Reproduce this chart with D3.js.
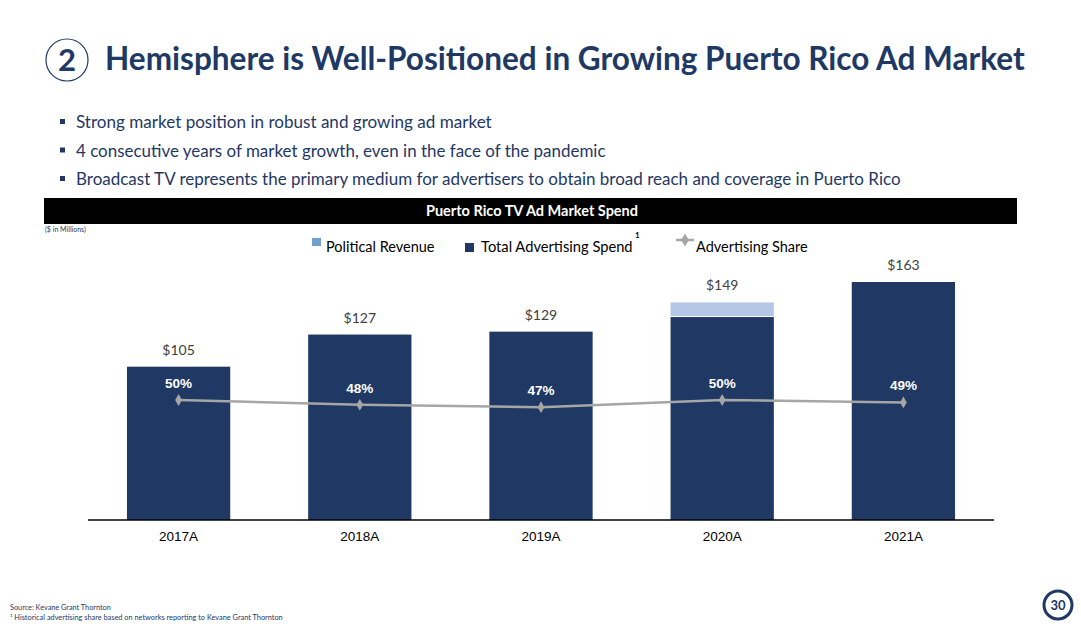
<!DOCTYPE html>
<html>
<head>
<meta charset="utf-8">
<script src="https://cdn.jsdelivr.net/npm/d3@7"></script>
<style>
  body { margin: 0; background: #fff; }
  svg { display: block; }
</style>
</head>
<body>
<svg id="chart" width="1081" height="636"></svg>
<script>
const W = 1081, H = 636;

// data
const years = ['2017A', '2018A', '2019A', '2020A', '2021A'];
const adSpend = [105, 127, 129, 139, 163];
const political = [0, 0, 0, 10, 0];
const totalLabels = ['$105', '$127', '$129', '$149', '$163'];
const adShare = [50, 48, 47, 50, 49];
const bullets = [
  'Strong market position in robust and growing ad market',
  '4 consecutive years of market growth, even in the face of the pandemic',
  'Broadcast TV represents the primary medium for advertisers to obtain broad reach and coverage in Puerto Rico'
];

const navy = '#203864';
const textNavy = '#1f3864';
const polColor = '#b4c7e7';
const polLegend = '#729fcf';
const lineGray = '#a6a6a6';
const slideFont = 'Lato, "Open Sans", sans-serif';
const chartFont = '"Liberation Sans", Arial, sans-serif';

const svg = d3.select('#chart');

// shrink/grow a text node so it spans a given width
function fitText(sel, width) {
  const node = sel.node();
  const size = parseFloat(sel.attr('font-size'));
  const len = node.getComputedTextLength();
  sel.attr('font-size', size * width / len);
}

// HEADER
svg.append('circle')
  .attr('cx', 67).attr('cy', 60).attr('r', 21)
  .attr('fill', 'none').attr('stroke', navy).attr('stroke-width', 1.2);
svg.append('text')
  .attr('x', 67).attr('y', 71)
  .attr('text-anchor', 'middle')
  .attr('font-family', slideFont).attr('font-weight', 700)
  .attr('font-size', 31).attr('fill', navy)
  .text('2');
const title = svg.append('text')
  .attr('x', 105).attr('y', 70)
  .attr('font-family', slideFont).attr('font-weight', 700)
  .attr('font-size', 30).attr('fill', navy)
  .text('Hemisphere is Well-Positioned in Growing Puerto Rico Ad Market');
fitText(title, 920);

// BULLETS
const bulletWidths = [416, 530, 825];
bullets.forEach((b, i) => {
  const y = 123 + i * 28.5;
  svg.append('rect')
    .attr('x', 60).attr('y', y - 4).attr('width', 5).attr('height', 5)
    .attr('fill', textNavy);
  const t = svg.append('text')
    .attr('x', 76).attr('y', y + 5)
    .attr('font-family', slideFont).attr('font-size', 16)
    .attr('fill', textNavy)
    .text(b);
  fitText(t, bulletWidths[i]);
});

// CHART TITLE BAR
svg.append('rect')
  .attr('x', 44).attr('y', 198).attr('width', 973).attr('height', 26)
  .attr('fill', '#000');
svg.append('text')
  .attr('x', 532).attr('y', 216)
  .attr('text-anchor', 'middle')
  .attr('font-family', slideFont).attr('font-weight', 700)
  .attr('font-size', 14.5).attr('fill', '#fff')
  .text('Puerto Rico TV Ad Market Spend');
svg.append('text')
  .attr('x', 45).attr('y', 232)
  .attr('font-family', slideFont).attr('font-size', 7)
  .attr('fill', textNavy)
  .text('($ in Millions)');

// LEGEND
svg.append('rect').attr('x', 312).attr('y', 238).attr('width', 9).attr('height', 8).attr('fill', polLegend);
svg.append('text').attr('x', 326).attr('y', 252)
  .attr('font-family', slideFont).attr('font-size', 14.5).attr('fill', '#000')
  .text('Political Revenue');
svg.append('rect').attr('x', 465).attr('y', 243).attr('width', 9).attr('height', 9).attr('fill', navy);
svg.append('text').attr('x', 481).attr('y', 252)
  .attr('font-family', slideFont).attr('font-size', 14.7).attr('fill', '#000')
  .text('Total Advertising Spend');
svg.append('text').attr('x', 635).attr('y', 238)
  .attr('font-family', slideFont).attr('font-weight', 700).attr('font-size', 8).attr('fill', '#000')
  .text('1');
svg.append('line').attr('x1', 676).attr('x2', 694).attr('y1', 240).attr('y2', 240)
  .attr('stroke', lineGray).attr('stroke-width', 2.5);
svg.append('path')
  .attr('d', d3.symbol(d3.symbolDiamond, 50)())
  .attr('transform', 'translate(685,240)')
  .attr('fill', lineGray);
svg.append('text').attr('x', 696).attr('y', 252)
  .attr('font-family', slideFont).attr('font-size', 14.5).attr('fill', '#000')
  .text('Advertising Share');

// SCALES
const x = d3.scaleBand()
  .domain(years)
  .range([88, 994])
  .paddingInner(0.43)
  .paddingOuter(0.215);
const y = d3.scaleLinear()
  .domain([0, 163])
  .range([520, 282]);
const yShare = d3.scaleLinear()
  .domain([0, 100])
  .range([520, 280]);

// BARS
const rows = years.map((yr, i) => ({
  year: yr, spend: adSpend[i], pol: political[i], label: totalLabels[i], share: adShare[i]
}));

svg.selectAll('rect.spend')
  .data(rows)
  .join('rect')
  .attr('class', 'spend')
  .attr('x', d => x(d.year))
  .attr('width', x.bandwidth())
  .attr('y', d => y(d.spend))
  .attr('height', d => y(0) - y(d.spend))
  .attr('fill', navy);

svg.selectAll('rect.pol')
  .data(rows.filter(d => d.pol > 0))
  .join('rect')
  .attr('class', 'pol')
  .attr('x', d => x(d.year))
  .attr('width', x.bandwidth())
  .attr('y', d => y(d.spend + d.pol))
  .attr('height', d => y(d.spend) - y(d.spend + d.pol) - 1)
  .attr('fill', polColor);

svg.selectAll('text.total')
  .data(rows)
  .join('text')
  .attr('class', 'total')
  .attr('x', d => x(d.year) + x.bandwidth() / 2)
  .attr('y', d => y(d.spend + d.pol) - 12)
  .attr('text-anchor', 'middle')
  .attr('font-family', slideFont).attr('font-size', 14)
  .attr('fill', '#404040')
  .text(d => d.label);

// AXIS
const axis = svg.append('g')
  .attr('transform', 'translate(0,520)')
  .call(d3.axisBottom(x).tickSize(0).tickPadding(11));
axis.select('.domain').attr('stroke', '#000').attr('stroke-width', 1.3).attr('d', 'M88,0H994');
axis.selectAll('text')
  .attr('font-family', chartFont).attr('font-size', 13.5).attr('fill', '#000');

// SHARE LINE
const cx = d => x(d.year) + x.bandwidth() / 2;
svg.append('path')
  .datum(rows)
  .attr('d', d3.line().x(cx).y(d => yShare(d.share)))
  .attr('fill', 'none')
  .attr('stroke', lineGray)
  .attr('stroke-width', 2.5);
svg.selectAll('path.dot')
  .data(rows)
  .join('path')
  .attr('class', 'dot')
  .attr('d', d3.symbol(d3.symbolDiamond, 40)())
  .attr('transform', d => `translate(${cx(d)},${yShare(d.share)})`)
  .attr('fill', lineGray);
svg.selectAll('text.share')
  .data(rows)
  .join('text')
  .attr('class', 'share')
  .attr('x', cx)
  .attr('y', d => yShare(d.share) - 12)
  .attr('text-anchor', 'middle')
  .attr('font-family', chartFont).attr('font-weight', 700)
  .attr('font-size', 13.5).attr('fill', '#fff')
  .text(d => d.share + '%');

// FOOTER
const src = svg.append('text').attr('x', 10).attr('y', 610)
  .attr('font-family', slideFont).attr('font-size', 7).attr('fill', textNavy)
  .text('Source: Kevane Grant Thornton');
fitText(src, 101);
const note = svg.append('text').attr('x', 10).attr('y', 620)
  .attr('font-family', slideFont).attr('font-size', 7).attr('fill', textNavy)
  .text('¹ Historical advertising share based on networks reporting to Kevane Grant Thornton');
fitText(note, 273);

svg.append('circle')
  .attr('cx', 1058).attr('cy', 605).attr('r', 14)
  .attr('fill', '#fff').attr('stroke', navy).attr('stroke-width', 3);
svg.append('text').attr('x', 1058).attr('y', 610)
  .attr('text-anchor', 'middle')
  .attr('font-family', slideFont).attr('font-weight', 700)
  .attr('font-size', 13).attr('fill', navy)
  .text('30');
</script>
</body>
</html>
